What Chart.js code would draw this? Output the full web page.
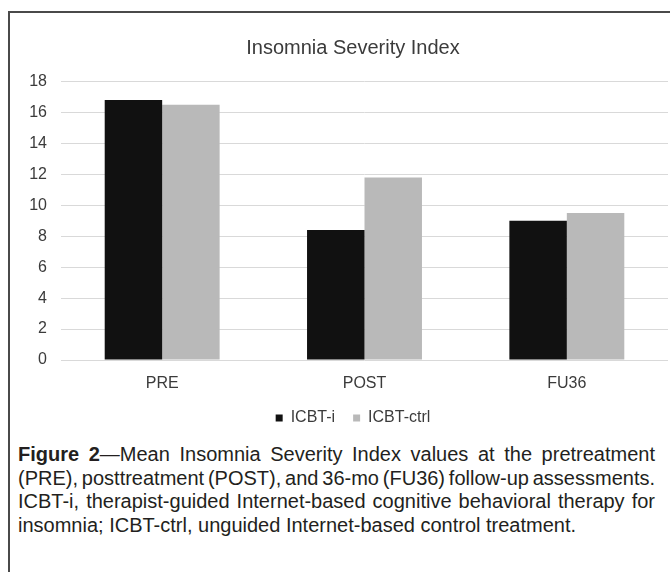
<!doctype html>
<html lang="en">
<head>
<meta charset="utf-8">
<title>Insomnia Severity Index</title>
<script src="https://cdn.jsdelivr.net/npm/chart.js"></script>
<style>
  html, body {
    margin: 0;
    padding: 0;
    background: #fff;
    overflow: hidden;
    font-family: 'Liberation Sans', Arial, sans-serif;
  }
  #frame {
    position: absolute;
    left: 8px;
    top: 11px;
    width: 700px;
    height: 600px;
    border-left: 2px solid #4a4a4a;
    border-top: 2px solid #4a4a4a;
  }
  /* chart object runs past the right edge, like the cropped original */
  #chart {
    position: absolute;
    left: 0;
    top: 0;
  }
  #caption {
    position: absolute;
    left: 18px;
    top: 443px;
    width: 637px;
    font-size: 20px;
    line-height: 23.5px;
    color: #231f20;
  }
  #caption div {
    white-space: nowrap;
  }
  #caption .j {
    text-align: justify;
    text-align-last: justify;
  }
</style>
</head>
<body>
<div id="frame"></div>
<canvas id="chart" width="706" height="436"></canvas>
<div id="caption">
  <div class="j"><b>Figure 2</b>—Mean Insomnia Severity Index values at the pretreatment</div>
  <div class="j" style="word-spacing:-2px">(PRE), posttreatment (POST), and 36-mo (FU36) follow-up assessments.</div>
  <div class="j">ICBT-i, therapist-guided Internet-based cognitive behavioral therapy for</div>
  <div>insomnia; ICBT-ctrl, unguided Internet-based control treatment.</div>
</div>
<script>
const categories = ['PRE', 'POST', 'FU36'];
const icbtI = [16.8, 8.4, 9.0];
const icbtCtrl = [16.5, 11.8, 9.5];
const yTicks = [0, 2, 4, 6, 8, 10, 12, 14, 16, 18];

const textColor = '#3b3b3b';
const fontFamily = "'Liberation Sans', Arial, sans-serif";

new Chart(document.getElementById('chart'), {
  type: 'bar',
  data: {
    labels: categories,
    datasets: [
      {label: 'ICBT-i', data: icbtI, backgroundColor: '#111111'},
      {label: 'ICBT-ctrl', data: icbtCtrl, backgroundColor: '#b9b9b9'}
    ]
  },
  options: {
    responsive: false,
    animation: false,
    categoryPercentage: 0.568,
    barPercentage: 1.0,
    layout: {padding: 0},
    plugins: {
      title: {
        display: true,
        text: 'Insomnia Severity Index',
        color: textColor,
        font: {family: fontFamily, size: 20, weight: 'normal'},
        padding: {top: 36, bottom: 21.5}
      },
      legend: {
        position: 'bottom',
        labels: {
          color: textColor,
          font: {family: fontFamily, size: 16},
          boxWidth: 7,
          boxHeight: 7,
          padding: 18
        }
      },
      tooltip: {enabled: false}
    },
    scales: {
      x: {
        afterFit: (scale) => { scale.height = 32; },
        grid: {display: false, drawTicks: false},
        border: {display: false},
        ticks: {color: textColor, font: {family: fontFamily, size: 16}, padding: 14}
      },
      y: {
        min: 0,
        max: 18,
        afterBuildTicks: (scale) => { scale.ticks = yTicks.map(v => ({value: v})); },
        afterFit: (scale) => { scale.width = 61; },
        grid: {color: '#d9d9d9', lineWidth: 1, drawTicks: false},
        border: {display: false},
        ticks: {color: textColor, font: {family: fontFamily, size: 16}, padding: 14}
      },
      // empty spacer on the right so the plot ends where the original's does
      spacer: {
        type: 'linear',
        position: 'right',
        afterFit: (scale) => { scale.width = 38; },
        grid: {display: false, drawTicks: false},
        border: {display: false},
        ticks: {display: false}
      }
    }
  }
});
</script>
</body>
</html>
